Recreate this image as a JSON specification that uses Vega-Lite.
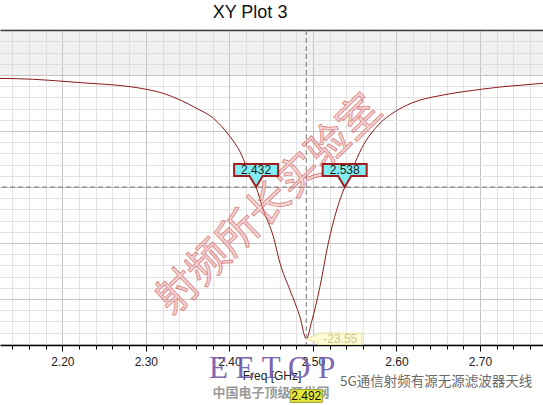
{
  "$schema": "https://vega.github.io/schema/vega-lite/v6.json",
  "width": 543,
  "height": 315,
  "autosize": {"type": "none"},
  "padding": {"left": 0, "right": 0, "top": 30, "bottom": 60},
  "background": "white",
  "config": {"view": {"stroke": null}},
  "datasets": {
    "curve": [
      {"freq": 2.1254, "s11": -0.30},
      {"freq": 2.1653, "s11": -0.38},
      {"freq": 2.1972, "s11": -0.54},
      {"freq": 2.2332, "s11": -0.74},
      {"freq": 2.267, "s11": -0.92},
      {"freq": 2.281, "s11": -1.04},
      {"freq": 2.301, "s11": -1.28},
      {"freq": 2.321, "s11": -1.64},
      {"freq": 2.341, "s11": -2.23},
      {"freq": 2.361, "s11": -2.98},
      {"freq": 2.381, "s11": -3.87},
      {"freq": 2.4007, "s11": -5.5},
      {"freq": 2.4127, "s11": -6.85},
      {"freq": 2.4207, "s11": -8.2},
      {"freq": 2.432, "s11": -10.0},
      {"freq": 2.4406, "s11": -12.05},
      {"freq": 2.4525, "s11": -14.4},
      {"freq": 2.4606, "s11": -16.8},
      {"freq": 2.4725, "s11": -19.2},
      {"freq": 2.4845, "s11": -21.6},
      {"freq": 2.492, "s11": -23.55},
      {"freq": 2.4985, "s11": -22.0},
      {"freq": 2.5084, "s11": -18.9},
      {"freq": 2.5184, "s11": -15.0},
      {"freq": 2.5284, "s11": -12.05},
      {"freq": 2.538, "s11": -10.0},
      {"freq": 2.5483, "s11": -8.2},
      {"freq": 2.5583, "s11": -6.55},
      {"freq": 2.5782, "s11": -4.46},
      {"freq": 2.5982, "s11": -3.27},
      {"freq": 2.6182, "s11": -2.5},
      {"freq": 2.6555, "s11": -1.79},
      {"freq": 2.6795, "s11": -1.49},
      {"freq": 2.7035, "s11": -1.25},
      {"freq": 2.7275, "s11": -1.04},
      {"freq": 2.7515, "s11": -0.89},
      {"freq": 2.7754, "s11": -0.74}
    ],
    "markers": [
      {"label": "2.432", "freq": 2.432, "level": -10},
      {"label": "2.538", "freq": 2.538, "level": -10}
    ],
    "minimum": [
      {"freq": 2.492, "level": -23.55, "label": "-23.55", "readout": "2.492"}
    ]
  },
  "layer": [
    {
      "data": {"values": [{"region": "above 0 dB"}]},
      "mark": {"type": "rect", "fill": "#cfcfcf", "opacity": 0.3},
      "encoding": {
        "y": {"datum": 0, "type": "quantitative", "scale": {"domain": [-24.1, 4.02], "nice": false, "zero": false},
          "axis": {"orient": "left", "values": [-24,-23,-22,-21,-20,-19,-18,-17,-16,-15,-14,-13,-12,-11,-10,-9,-8,-7,-6,-5,-4,-3,-2,-1,0,1,2,3,4], "grid": true, "gridColor": "#e2e2e2", "gridWidth": 1, "labels": false, "ticks": false, "domain": false, "title": null}},
        "y2": {"datum": 4.02}
      }
    },
    {
      "data": {"name": "curve"},
      "mark": {"type": "line", "color": "#8b1a1a", "strokeWidth": 1, "interpolate": "monotone"},
      "encoding": {
        "x": {"field": "freq", "type": "quantitative", "scale": {"domain": [2.1254, 2.7754], "nice": false, "zero": false},
          "axis": {"orient": "bottom", "values": [2.14,2.16,2.18,2.2,2.22,2.24,2.26,2.28,2.3,2.32,2.34,2.36,2.38,2.4,2.42,2.44,2.46,2.48,2.5,2.52,2.54,2.56,2.58,2.6,2.62,2.64,2.66,2.68,2.7,2.72,2.74,2.76], "grid": true, "gridColor": "#e2e2e2", "gridWidth": 1, "labels": false, "domain": false, "ticks": true, "tickSize": 4, "tickColor": "#000000", "tickWidth": 1, "title": null}},
        "y": {"field": "s11", "type": "quantitative", "scale": {"domain": [-24.1, 4.02], "nice": false, "zero": false},
          "axis": {"orient": "left", "values": [-20, -15, -10, -5, 0], "grid": true, "gridColor": "#c4c4c4", "gridWidth": 1, "labels": false, "ticks": false, "domain": false, "title": null}}
      }
    },
    {
      "data": {"name": "minimum"},
      "mark": {"type": "rule", "color": "#777777", "strokeDash": [5, 3], "strokeWidth": 1},
      "encoding": {
        "x": {"field": "freq", "type": "quantitative", "scale": {"domain": [2.1254, 2.7754], "nice": false, "zero": false},
          "axis": {"orient": "bottom", "values": [2.2, 2.3, 2.4, 2.5, 2.6, 2.7], "format": ".2f", "grid": true, "gridColor": "#c4c4c4", "gridWidth": 1, "domain": true, "domainColor": "#000000", "domainWidth": 1.5, "ticks": true, "tickSize": 6, "tickColor": "#000000", "tickWidth": 1, "labelFont": "Liberation Sans", "labelFontSize": 12, "labelColor": "#222222", "labelPadding": 5, "title": "Freq [GHz]", "titleFont": "Liberation Sans", "titleFontSize": 12, "titleFontWeight": "normal", "titleColor": "#222222", "titlePadding": 3}}
      }
    },
    {
      "data": {"values": [{"level": -10}]},
      "mark": {"type": "rule", "color": "#777777", "strokeDash": [5, 3], "strokeWidth": 1},
      "encoding": {
        "y": {"field": "level", "type": "quantitative", "scale": {"domain": [-24.1, 4.02], "nice": false, "zero": false}, "axis": null}
      }
    },
    {
      "data": {"values": [{"wm": "射频所长实验室"}]},
      "mark": {"type": "text", "font": "Noto Sans CJK SC", "fontSize": 42, "angle": -44, "align": "center", "baseline": "middle", "fill": "#eaa0a0", "fillOpacity": 0.45, "stroke": "#d46a6a", "strokeWidth": 0.9, "strokeOpacity": 0.75},
      "encoding": {
        "x": {"datum": 2.4474, "type": "quantitative", "scale": {"domain": [2.1254, 2.7754], "nice": false, "zero": false}, "axis": null},
        "y": {"datum": -11.6, "type": "quantitative", "scale": {"domain": [-24.1, 4.02], "nice": false, "zero": false}, "axis": null},
        "text": {"field": "wm"}
      }
    },
    {
      "data": {"name": "markers"},
      "mark": {"type": "point", "shape": "M-1,-1.05L1,-1.05L1,-0.5L0.3,-0.5L0,0L-0.3,-0.5L-1,-0.5Z", "size": 1936, "filled": true, "fill": "#82eef2", "stroke": "#a11d1d", "strokeWidth": 2, "opacity": 1},
      "encoding": {
        "x": {"field": "freq", "type": "quantitative", "scale": {"domain": [2.1254, 2.7754], "nice": false, "zero": false},
          "axis": {"orient": "top", "domain": true, "domainColor": "#000000", "domainWidth": 1.5, "ticks": false, "labels": false, "grid": false, "title": null}},
        "y": {"field": "level", "type": "quantitative", "scale": {"domain": [-24.1, 4.02], "nice": false, "zero": false}, "axis": null}
      }
    },
    {
      "data": {"name": "markers"},
      "mark": {"type": "text", "font": "Liberation Sans", "fontSize": 12, "dy": -17, "align": "center", "baseline": "middle", "color": "#1a1a1a"},
      "encoding": {
        "x": {"field": "freq", "type": "quantitative", "scale": {"domain": [2.1254, 2.7754], "nice": false, "zero": false}, "axis": null},
        "y": {"field": "level", "type": "quantitative", "scale": {"domain": [-24.1, 4.02], "nice": false, "zero": false}, "axis": null},
        "text": {"field": "label"}
      }
    },
    {
      "data": {"name": "minimum"},
      "mark": {"type": "point", "shape": "M0,0L0.53,-0.2L0.53,-0.26L2.53,-0.26L2.53,0.26L0.53,0.26L0.53,0.2Z", "size": 1936, "filled": true, "fill": "#fffbd3", "stroke": "#e6dfa2", "strokeWidth": 1, "opacity": 1},
      "encoding": {
        "x": {"field": "freq", "type": "quantitative", "scale": {"domain": [2.1254, 2.7754], "nice": false, "zero": false}, "axis": null},
        "y": {"field": "level", "type": "quantitative", "scale": {"domain": [-24.1, 4.02], "nice": false, "zero": false}, "axis": null}
      }
    },
    {
      "data": {"name": "minimum"},
      "mark": {"type": "text", "font": "Liberation Sans", "fontSize": 12, "dx": 34, "align": "center", "baseline": "middle", "color": "#cfc38f"},
      "encoding": {
        "x": {"field": "freq", "type": "quantitative", "scale": {"domain": [2.1254, 2.7754], "nice": false, "zero": false}, "axis": null},
        "y": {"field": "level", "type": "quantitative", "scale": {"domain": [-24.1, 4.02], "nice": false, "zero": false}, "axis": null},
        "text": {"field": "label"}
      }
    },
    {
      "data": {"values": [{"title": "XY Plot 3"}]},
      "mark": {"type": "text", "font": "Liberation Sans", "fontSize": 18, "align": "center", "baseline": "alphabetic", "color": "#111111"},
      "encoding": {
        "x": {"datum": 2.4247, "type": "quantitative", "scale": {"domain": [2.1254, 2.7754], "nice": false, "zero": false}, "axis": null},
        "y": {"datum": 5.09, "type": "quantitative", "scale": {"domain": [-24.1, 4.02], "nice": false, "zero": false}, "axis": null},
        "text": {"field": "title"}
      }
    },
    {
      "data": {"values": [{"wm": "E E T O P"}]},
      "mark": {"type": "text", "font": "Liberation Serif", "fontSize": 31, "align": "center", "baseline": "middle", "color": "#7256a8", "opacity": 0.9},
      "encoding": {
        "x": {"datum": 2.4512, "type": "quantitative", "scale": {"domain": [2.1254, 2.7754], "nice": false, "zero": false}, "axis": null},
        "y": {"datum": -26.2, "type": "quantitative", "scale": {"domain": [-24.1, 4.02], "nice": false, "zero": false}, "axis": null},
        "text": {"field": "wm"}
      }
    },
    {
      "data": {"values": [{"wm": "中国电子顶级开发网"}]},
      "mark": {"type": "text", "font": "Noto Sans CJK SC", "fontSize": 13, "fontWeight": "bold", "align": "center", "baseline": "middle", "color": "#9a9a9a"},
      "encoding": {
        "x": {"datum": 2.4498, "type": "quantitative", "scale": {"domain": [2.1254, 2.7754], "nice": false, "zero": false}, "axis": null},
        "y": {"datum": -28.39, "type": "quantitative", "scale": {"domain": [-24.1, 4.02], "nice": false, "zero": false}, "axis": null},
        "text": {"field": "wm"}
      }
    },
    {
      "data": {"values": [{"wm": "5G通信射频有源无源滤波器天线"}]},
      "mark": {"type": "text", "font": "Noto Sans CJK SC", "fontSize": 13.5, "align": "left", "baseline": "middle", "color": "#6a6a6a"},
      "encoding": {
        "x": {"datum": 2.5324, "type": "quantitative", "scale": {"domain": [2.1254, 2.7754], "nice": false, "zero": false}, "axis": null},
        "y": {"datum": -27.41, "type": "quantitative", "scale": {"domain": [-24.1, 4.02], "nice": false, "zero": false}, "axis": null},
        "text": {"field": "wm"}
      }
    },
    {
      "data": {"name": "minimum"},
      "mark": {"type": "point", "shape": "M-1,-0.4L1,-0.4L1,0.4L-1,0.4Z", "size": 1024, "filled": true, "fill": "#e6e63a", "stroke": "#9a9a30", "strokeWidth": 1, "opacity": 1, "yOffset": 51},
      "encoding": {
        "x": {"field": "freq", "type": "quantitative", "scale": {"domain": [2.1254, 2.7754], "nice": false, "zero": false}, "axis": null},
        "y": {"datum": -24.1, "type": "quantitative", "scale": {"domain": [-24.1, 4.02], "nice": false, "zero": false}, "axis": null}
      }
    },
    {
      "data": {"name": "minimum"},
      "mark": {"type": "text", "font": "Liberation Sans", "fontSize": 12, "align": "center", "baseline": "middle", "color": "#111111", "yOffset": 51},
      "encoding": {
        "x": {"field": "freq", "type": "quantitative", "scale": {"domain": [2.1254, 2.7754], "nice": false, "zero": false}, "axis": null},
        "y": {"datum": -24.1, "type": "quantitative", "scale": {"domain": [-24.1, 4.02], "nice": false, "zero": false}, "axis": null},
        "text": {"field": "readout"}
      }
    }
  ],
  "resolve": {"axis": {"x": "independent", "y": "independent"}}
}
